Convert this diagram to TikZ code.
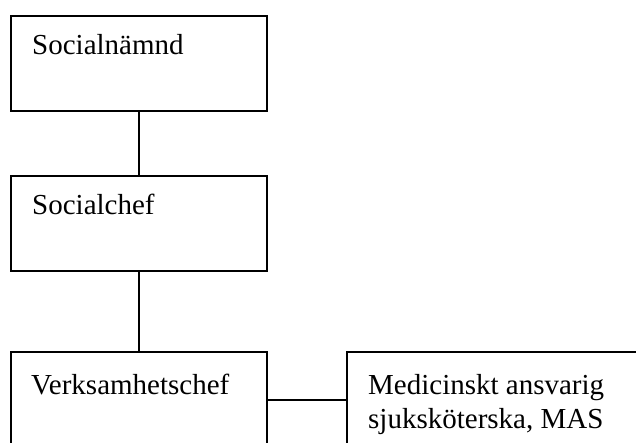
\documentclass[tikz,border=0pt]{standalone}
\usepackage{fontspec}
\setmainfont{Liberation Serif}
\begin{document}
\begin{tikzpicture}[x=1pt,y=-1pt,
  box/.style={draw=black,line width=1.6pt,rectangle,anchor=north west,inner sep=0pt,minimum width=256pt,minimum height=95pt},
  lbl/.style={anchor=base west,inner sep=0pt,align=left,font=\fontsize{29}{34}\selectfont},
  conn/.style={draw=black,line width=1.6pt}]
\useasboundingbox (0,0) rectangle (636,442);
\clip (0,0) rectangle (636,442);
\node[box] (n1) at (10,15) {};
\node[box] (n2) at (10,175) {};
\node[box,minimum height=96pt] (n3) at (10,351) {};
\node[box,minimum height=96pt,minimum width=320pt] (n4) at (346,351) {};
\node[lbl] (t1) at ([xshift=22pt,yshift=-39pt]n1.north west) {Socialnämnd};
\node[lbl] (t2) at ([xshift=22pt,yshift=-39pt]n2.north west) {Socialchef};
\node[lbl] (t3) at ([xshift=21pt,yshift=-43pt]n3.north west) {Verksamhetschef};
\node[lbl] (t4) at ([xshift=22pt,yshift=-77pt]n4.north west) {Medicinskt ansvarig\\sjuksköterska, MAS};
\draw[conn] (n1.south) -- (n2.north);
\draw[conn] (n2.south) -- (n3.north);
\draw[conn] (n3.east) -- (n4.west);
\end{tikzpicture}
\end{document}
